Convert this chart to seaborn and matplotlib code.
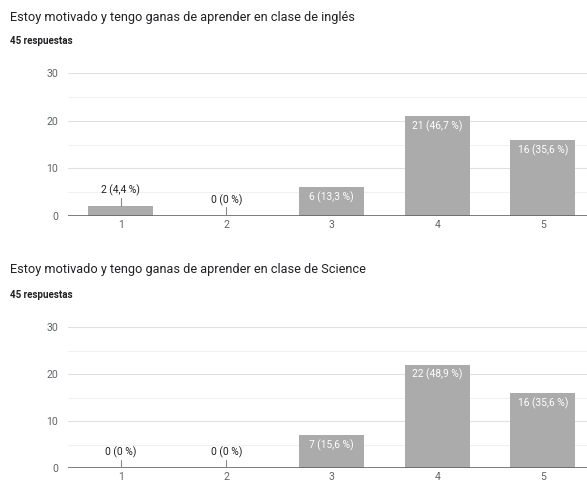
import matplotlib
matplotlib.use("Agg")
import matplotlib.pyplot as plt
import seaborn as sns
import pandas as pd

sns.set_theme(style="white")
plt.rcParams["font.family"] = ["Roboto", "DejaVu Sans"]

categories = ["1", "2", "3", "4", "5"]
ingles_counts = [2, 0, 6, 21, 16]
ingles_pct = ["4,4", "0", "13,3", "46,7", "35,6"]
science_counts = [0, 0, 7, 22, 16]
science_pct = ["0", "0", "15,6", "48,9", "35,6"]
titles = [
    "Estoy motivado y tengo ganas de aprender en clase de inglés",
    "Estoy motivado y tengo ganas de aprender en clase de Science",
]
subtitle = "45 respuestas"
y_ticks = [0, 10, 20, 30]

BAR = "#ababab"
TEXT = "#202124"
TICK = "#5f6368"

fig = plt.figure(figsize=(5.87, 4.84), dpi=100)
W, H = 587, 484


def axes_px(left, top, right, bottom):
    return fig.add_axes([left / W, 1 - bottom / H, (right - left) / W, (bottom - top) / H])


panels = [
    (axes_px(68, 73, 595.5, 216), ingles_counts, ingles_pct, titles[0], 18, 41),
    (axes_px(68, 327, 595.5, 468), science_counts, science_pct, titles[1], 270, 295),
]

for ax, counts, pct, title, ty, sy in panels:
    df = pd.DataFrame({"opcion": categories, "n": counts})
    sns.barplot(data=df, x="opcion", y="n", ax=ax, color=BAR, width=0.62,
                saturation=1, edgecolor="none", zorder=3)
    ax.set_xlim(-0.5, 4.5)
    ax.set_ylim(0, 30)
    ax.set_yticks(y_ticks)
    for g in [5, 15, 25]:
        ax.axhline(g, color="#f1f1f1", lw=0.8, zorder=1)
    for g in [10, 20, 30]:
        ax.axhline(g, color="#e0e0e0", lw=0.8, zorder=1)
    ax.axhline(0, color="#666666", lw=1.2, zorder=4)
    for s in ax.spines.values():
        s.set_visible(False)
    ax.set_xlabel("")
    ax.set_ylabel("")
    ax.tick_params(axis="both", length=0, labelsize=7.6, colors=TICK)
    ax.tick_params(axis="y", pad=7)
    ax.tick_params(axis="x", pad=3)
    for i, (v, p) in enumerate(zip(counts, pct)):
        label = f"{v} ({p} %)"
        if v >= 5:
            ax.text(i, v - 0.9, label, ha="center", va="top", color="white",
                    fontsize=7.4, zorder=5)
        else:
            ax.plot([i, i], [v, v + 1.8], color="#888888", lw=0.8, zorder=5)
            ax.text(i, v + 2.1, label, ha="center", va="bottom", color=TEXT,
                    fontsize=7.4, zorder=5)
    fig.text(10 / W, 1 - ty / H, title, ha="left", va="center", fontsize=9.2, color=TEXT)
    fig.text(10 / W, 1 - sy / H, subtitle, ha="left", va="center", fontsize=7,
             color=TEXT, fontweight="bold")

fig.savefig("out.png", dpi=100, facecolor="white")
